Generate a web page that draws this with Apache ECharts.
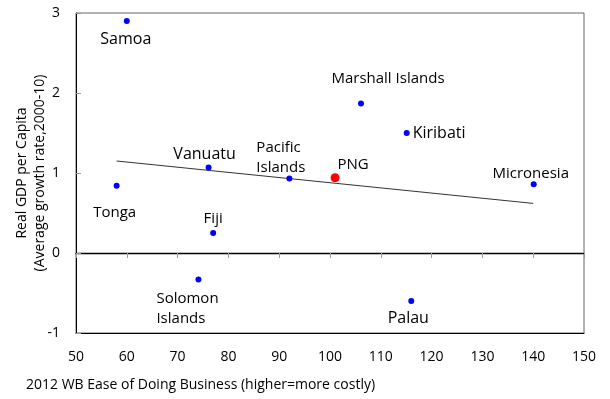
<!DOCTYPE html>
<html>
<head>
<meta charset="utf-8">
<script src="https://cdn.jsdelivr.net/npm/echarts@6/dist/echarts.min.js"></script>
<style>html,body{margin:0;padding:0;background:#fff}#c{width:610px;height:399px}</style>
</head>
<body>
<div id="c"></div>
<script>
// Data
var countries = ['Samoa','Tonga','Vanuatu','Pacific\nIslands','Marshall Islands','Kiribati','Micronesia','Fiji','Solomon\nIslands','Palau'];
var easeRank  = [60, 58, 76.1, 92, 106.1, 115.1, 140.1, 77, 74.1, 116];
var gdpGrowth = [2.9, 0.84, 1.07, 0.93, 1.87, 1.5, 0.86, 0.25, -0.33, -0.6];
var pngName = 'PNG';
var pngX = 101;
var pngY = 0.94;
var trendX = [58, 140];
var trendY = [1.15, 0.62];
var xTicks = [50, 60, 70, 80, 90, 100, 110, 120, 130, 140, 150];
var yTicks = [-1, 0, 1, 2, 3];
var yTitle = 'Real GDP per Capita\n(Average growth rate,2000-10)';
var xTitle = '2012 WB Ease of Doing Business (higher=more costly)';

// Label styling (presentation only)
var labelStyle = {
  'Samoa':            {offset:[-1, 18],  align:'center', size:16},
  'Tonga':            {offset:[-2, 27],  align:'center', size:15},
  'Vanuatu':          {offset:[-4, -13], align:'center', size:16},
  'Pacific\nIslands': {offset:[-33, -21], align:'left', size:15},
  'Marshall Islands': {offset:[27, -25], align:'center', size:15},
  'Kiribati':         {offset:[6, 0],    align:'left',   size:16},
  'Micronesia':       {offset:[-3, -10], align:'center', size:15},
  'Fiji':             {offset:[0, -14],  align:'center', size:15},
  'Solomon\nIslands': {offset:[-42, 29], align:'left',   size:15},
  'Palau':            {offset:[-3, 17],  align:'center', size:16},
  'PNG':              {offset:[18, -13], align:'center', size:15}
};

var FONT = 'Open Sans';
function mkLabel(name){
  var s = labelStyle[name];
  return {show:true, position:'inside', offset:s.offset, align:s.align, verticalAlign:'middle',
          fontSize:s.size, color:'#000', fontFamily:FONT, lineHeight:Math.round(s.size*1.3),
          textBorderWidth:0, textBorderColor:'transparent', formatter:name};
}

var scatterData = countries.map(function(n,i){
  return {name:n, value:[easeRank[i], gdpGrowth[i]], label:mkLabel(n)};
});
var pngData = [{name:pngName, value:[pngX, pngY], label:mkLabel(pngName)}];
var trendData = trendX.map(function(x,i){ return [x, trendY[i]]; });

var chart = echarts.init(document.getElementById('c'), null, {renderer:'canvas'});
chart.setOption({
  animation:false,
  backgroundColor:'#fff',
  textStyle:{fontFamily:FONT},
  title:{text:xTitle, left:21, top:373,
         textStyle:{fontSize:14, fontWeight:'normal', color:'#000', fontFamily:FONT}},
  graphic:[{
    type:'text', x:31, y:173, rotation:Math.PI/2, silent:true,
    style:{text:yTitle, align:'center', verticalAlign:'middle', fontSize:14, lineHeight:18,
           fill:'#000', fontFamily:FONT}
  }],
  grid:{left:76, right:26, top:13, bottom:66, containLabel:false, outerBoundsMode:'none',
        show:true, borderColor:'#666', borderWidth:1, backgroundColor:'transparent'},
  xAxis:[{
    type:'value', min:xTicks[0], max:xTicks[xTicks.length-1], interval:10, position:'bottom',
    axisLine:{show:true, onZero:false, lineStyle:{color:'#000', width:1}},
    axisTick:{show:false}, splitLine:{show:false},
    axisLabel:{fontSize:14, color:'#000', margin:17, fontFamily:FONT}
  },{
    type:'value', min:xTicks[0], max:xTicks[xTicks.length-1], interval:10, position:'top',
    axisLine:{show:true, onZero:true, lineStyle:{color:'#000', width:1.3}},
    axisTick:{show:true, inside:true, length:5, lineStyle:{color:'#999'}},
    axisLabel:{show:false}, splitLine:{show:false}
  }],
  yAxis:{
    type:'value', min:yTicks[0], max:yTicks[yTicks.length-1], interval:1,
    axisLine:{show:true, onZero:false, lineStyle:{color:'#000', width:1}},
    axisTick:{show:true, inside:true, length:5, lineStyle:{color:'#999'}},
    splitLine:{show:false},
    axisLabel:{fontSize:14, color:'#000', margin:16, fontFamily:FONT}
  },
  series:[{
    type:'line', data:trendData, symbol:'none', silent:true,
    lineStyle:{color:'#333', width:1}, z:1
  },{
    type:'scatter', data:scatterData, symbol:'circle', symbolSize:6,
    itemStyle:{color:'#0000ff', opacity:1}, z:3
  },{
    type:'scatter', data:pngData, symbol:'circle', symbolSize:9,
    itemStyle:{color:'#ff0000', opacity:1}, z:3
  }]
});
</script>
</body>
</html>
